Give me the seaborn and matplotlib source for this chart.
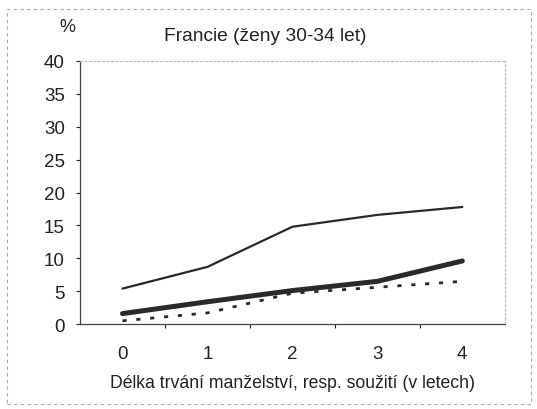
import pandas as pd
import seaborn as sns
import matplotlib.pyplot as plt
from matplotlib.patches import Rectangle

# data
roky = [0, 1, 2, 3, 4]
rada_tenka = [5.4, 8.7, 14.8, 16.6, 17.8]
rada_tlusta = [1.6, 3.4, 5.1, 6.5, 9.6]
rada_tecky = [0.5, 1.7, 4.7, 5.6, 6.5]
serie = ['tenka', 'tlusta', 'tecky']

df = pd.DataFrame({
    'rok': roky * 3,
    'hodnota': rada_tenka + rada_tlusta + rada_tecky,
    'serie': [s for s in serie for _ in roky],
})

sns.set_style('white')
plt.rcParams['font.family'] = ['Liberation Sans', 'DejaVu Sans']

fig = plt.figure(figsize=(5.37, 4.1), dpi=100)
ax = fig.add_axes([0.149, 0.207, 0.791, 0.642])

styles = {
    'tenka': dict(lw=1.6, ls='-'),
    'tlusta': dict(lw=3.6, ls='-'),
    'tecky': dict(lw=2.0, ls=(0, (1.5, 3.5))),
}
for s in serie:
    sns.lineplot(data=df[df['serie'] == s], x='rok', y='hodnota', ax=ax,
                 color='#2a2a2a', legend=False, **styles[s])

ax.set_xlim(-0.5, 4.5)
ax.set_ylim(0, 40)
ax.set_yticks(range(0, 41, 5))
ax.set_xticks(roky)
ax.set_xticks([0.5, 1.5, 2.5, 3.5], minor=True)
ax.tick_params(axis='both', which='major', labelsize=13.5, colors='#222222')
ax.tick_params(axis='y', length=3, width=0.8, direction='out', left=True, pad=8)
ax.tick_params(axis='x', which='major', length=0, pad=15)
ax.tick_params(axis='x', which='minor', length=3, width=0.8, direction='out', bottom=True)

for side in ['top', 'right']:
    ax.spines[side].set_color('#bbbbbb')
    ax.spines[side].set_linestyle((0, (2, 2)))
    ax.spines[side].set_linewidth(0.8)
for side in ['left', 'bottom']:
    ax.spines[side].set_color('#444444')
    ax.spines[side].set_linewidth(0.9)

ax.set_xlabel('Délka trvání manželství, resp. soužití (v letech)', fontsize=12.7,
              color='#222222', labelpad=9)
ax.set_ylabel('')

fig.text(0.494, 0.91, 'Francie (ženy 30-34 let)', ha='center', va='center',
         fontsize=13.8, color='#222222')
fig.text(0.125, 0.934, '%', ha='center', va='center', fontsize=13, color='#222222')

# outer frame of the chart area
fig.patches.append(Rectangle((0.013, 0.012), 0.975, 0.963, transform=fig.transFigure,
                             fill=False, ec='#aaaaaa', lw=0.8, ls=(0, (3, 3))))

fig.savefig('out.png', dpi=100)
